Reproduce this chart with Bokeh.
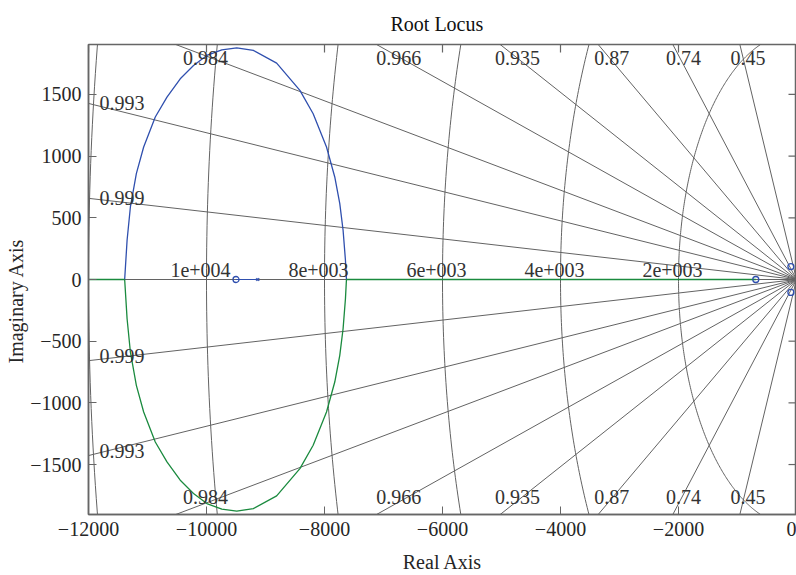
import numpy as np
from bokeh.plotting import figure
from bokeh.models import Range1d, FixedTicker, Title
from bokeh.embed import file_html
from bokeh.resources import INLINE
from bokeh.core.properties import value

# ---------------- data ----------------
x_ticks = [-12000, -10000, -8000, -6000, -4000, -2000, 0]
y_ticks = [-1500, -1000, -500, 0, 500, 1000, 1500]

# damping-ratio grid lines (sgrid) and their printed labels
zeta_values = [0.45, 0.74, 0.87, 0.935, 0.966, 0.984, 0.993, 0.9985, 1.0]
zeta_labels = ["0.45", "0.74", "0.87", "0.935", "0.966", "0.984", "0.993", "0.999", ""]

# natural-frequency grid arcs and their printed labels
wn_values = [2000, 4000, 6000, 8000, 10000, 12000]
wn_labels = ["2e+003", "4e+003", "6e+003", "8e+003", "1e+004", ""]

# upper complex branch of the locus (lower branch is its conjugate)
branch_re = [-11387, -11346, -11290, -11189, -11065, -10868, -10670, -10445,
             -10220, -9994, -9740, -9487, -9206, -8811, -8417, -8192, -7966,
             -7826, -7741, -7685, -7645, -7628]
branch_im = [0, 318, 588, 858, 1074, 1317, 1479, 1627, 1735, 1816, 1862, 1878,
             1857, 1754, 1533, 1344, 1074, 831, 615, 399, 156, 0]

# real-axis locus segments
real_left_re = [-13000, -11387]
real_right_re = [-7628, -690]
real_mid_re = [-9500, -9130]

# zeros (o) and poles (x)
zeros_re = [-9500, -690, -95, -95]
zeros_im = [0, 0, 105, -105]
poles_re = [-9130]
poles_im = [0]

title_text = "Root Locus"
x_label_text = "Real Axis"
y_label_text = "Imaginary Axis"

# ---------------- figure ----------------
XMIN, XMAX = -12000, 0
YMIN, YMAX = -1905, 1905
FRAME_W = 708.0
FRAME_H = 470.0
FONT = "Liberation Serif"
GRID_C = "#636363"
FRAME_C = "#666666"
BLUE = "#2f4fae"
GREEN = "#1a8a3e"
TXT = "#262626"

p = figure(width=796, height=575, x_range=Range1d(XMIN, XMAX),
           y_range=Range1d(YMIN, YMAX), output_backend="svg",
           toolbar_location=None, min_border_left=88, min_border_right=0,
           min_border_top=44, min_border_bottom=61)
p.background_fill_color = "white"
p.border_fill_color = "white"
p.outline_line_color = FRAME_C
p.outline_line_width = 1.5
p.xgrid.visible = False
p.ygrid.visible = False

p.title.text = title_text
p.title.align = "left"
p.title.offset = 302
p.title.text_font = FONT
p.title.text_font_size = "20px"
p.title.text_font_style = "normal"
p.title.text_color = "#111111"
p.title.standoff = 19

p.add_layout(Title(text=y_label_text, align="left", offset=151, text_font=FONT,
                   text_font_size="20px", text_font_style="normal", text_color=TXT,
                   standoff=2), "left")

minus = "\u2212"


def style_axis(ax, ticks):
    ax.ticker = FixedTicker(ticks=ticks)
    ax.axis_line_color = FRAME_C
    ax.axis_line_width = 1.5
    ax.major_tick_line_color = FRAME_C
    ax.major_tick_in = 8
    ax.major_tick_out = 0
    ax.minor_tick_line_color = None
    ax.major_label_text_font = FONT
    ax.major_label_text_color = TXT
    ax.major_label_text_font_size = "20px"
    ax.major_label_overrides = {t: (minus + str(abs(t)) if t < 0 else str(t)) for t in ticks}
    ax.axis_label_text_font = FONT
    ax.axis_label_text_font_size = "20px"
    ax.axis_label_text_font_style = "normal"
    ax.axis_label_text_color = TXT


style_axis(p.xaxis[0], x_ticks)
style_axis(p.yaxis[0], y_ticks)
p.xaxis[0].axis_label = x_label_text
p.xaxis[0].major_label_standoff = 7
p.xaxis[0].axis_label_standoff = 12
p.yaxis[0].major_label_standoff = 7

dx_px = (XMAX - XMIN) / FRAME_W
dy_px = (YMAX - YMIN) / FRAME_H

# inward ticks on the top and right edges of the box
tx = np.array(x_ticks, dtype=float)
p.segment(tx, np.full(len(tx), YMAX), tx, np.full(len(tx), YMAX - 8 * dy_px),
          line_color=FRAME_C, line_width=1.2)
ty = np.array(y_ticks, dtype=float)
p.segment(np.full(len(ty), XMAX), ty, np.full(len(ty), XMAX - 8 * dx_px), ty,
          line_color=FRAME_C, line_width=1.2)

# ---------------- grid: damping lines ----------------
R = 30000.0
for z in zeta_values:
    th = np.arccos(z)
    for s in (1, -1):
        p.line([0, -R * np.cos(th)], [0, s * R * np.sin(th)],
               line_color=GRID_C, line_width=1)

# ---------------- grid: natural frequency arcs ----------------
ang = np.linspace(np.pi / 2, 3 * np.pi / 2, 361)
for wn in wn_values:
    p.line(wn * np.cos(ang), wn * np.sin(ang), line_color=GRID_C, line_width=1)

# ---------------- locus ----------------
br = np.array(branch_re, dtype=float)
bi = np.array(branch_im, dtype=float)
p.line(br, bi, line_color=BLUE, line_width=1.3)
p.line(br, -bi, line_color=GREEN, line_width=1.3)
p.line(real_left_re, [0, 0], line_color=GREEN, line_width=1.5)
p.line(real_right_re, [0, 0], line_color=GREEN, line_width=1.5)
p.line(real_mid_re, [0, 0], line_color=BLUE, line_width=1.2)

p.scatter(zeros_re, zeros_im, marker="circle", size=6, fill_color=None,
          line_color=BLUE, line_width=1.3)
p.scatter(poles_re, poles_im, marker="x", size=4, line_color=BLUE, line_width=1.2)

# ---------------- labels ----------------
lab_kw = dict(text_font=value(FONT), text_font_size="20px", text_color="#333333")
for z, lab in zip(zeta_values, zeta_labels):
    if not lab:
        continue
    t = np.tan(np.arccos(z))
    x_top = -YMAX / t
    if x_top >= XMIN:
        y_lab = YMAX - 9 * dy_px
        x_lab = -y_lab / t
        p.text([x_lab], [y_lab], text=[lab], text_align="center",
               text_baseline="middle", x_offset=6, y_offset=4, **lab_kw)
        p.text([x_lab], [-y_lab], text=[lab], text_align="center",
               text_baseline="middle", x_offset=6, y_offset=-9, **lab_kw)
    else:
        y_lab = -XMIN * t
        p.text([XMIN], [y_lab], text=[lab], text_align="left",
               text_baseline="middle", x_offset=11, **lab_kw)
        p.text([XMIN], [-y_lab], text=[lab], text_align="left",
               text_baseline="middle", x_offset=11, y_offset=-5, **lab_kw)

for wn, lab in zip(wn_values, wn_labels):
    if not lab:
        continue
    p.text([-wn], [0], text=[lab], text_align="center", text_baseline="bottom",
           x_offset=-6, y_offset=-3, **lab_kw)

open("out.html", "w").write(file_html(p, INLINE))
